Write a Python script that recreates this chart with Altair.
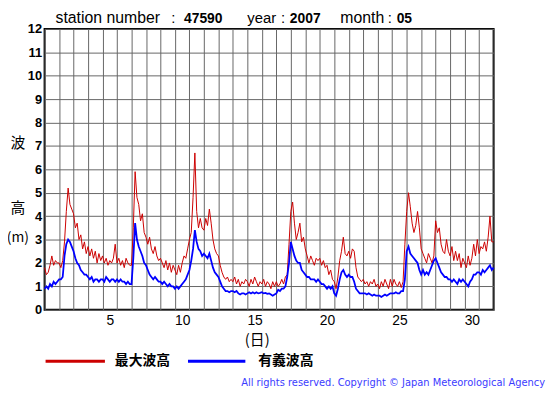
import altair as alt
import pandas as pd

# ---- data (8 readings per day, 3-hourly) ----
red_by_day = [
    [1.8, 1.5, 1.6, 1.9, 2.3, 1.9, 2.1, 2.0],
    [2.0, 1.8, 2.1, 2.9, 4.2, 5.2, 4.5, 4.3],
    [4.1, 3.5, 3.7, 3.0, 3.2, 2.6, 2.9, 2.4],
    [2.7, 2.3, 2.6, 2.2, 2.5, 2.0, 2.4, 2.1],
    [2.3, 2.0, 2.2, 1.9, 2.1, 2.0, 2.2, 2.8],
    [2.0, 2.2, 1.9, 2.1, 1.8, 2.2, 2.0, 1.9],
    [1.9, 3.5, 5.9, 4.8, 4.5, 3.8, 4.1, 3.3],
    [3.1, 2.8, 3.1, 2.6, 2.4, 2.7, 2.3, 2.1],
    [2.2, 2.0, 1.8, 2.1, 1.7, 2.0, 1.6, 1.9],
    [1.7, 1.5, 1.9, 1.6, 2.0, 2.3, 2.2, 2.6],
    [3.0, 3.3, 4.8, 6.7, 4.2, 3.5, 3.9, 3.5],
    [3.4, 3.9, 3.6, 4.3, 3.7, 3.0, 2.6, 2.4],
    [2.3, 1.9, 1.6, 1.4, 1.3, 1.4, 1.2, 1.3],
    [1.2, 1.4, 1.1, 1.3, 1.0, 1.2, 1.1, 1.3],
    [1.2, 1.0, 1.3, 1.1, 1.4, 1.2, 1.0, 1.2],
    [1.1, 1.3, 1.0, 1.2, 1.1, 0.9, 1.2, 1.0],
    [1.2, 1.0, 1.1, 1.3, 1.1, 1.4, 1.5, 2.8],
    [4.2, 4.6, 3.7, 3.0, 3.3, 3.7, 2.9, 3.1],
    [2.6, 2.3, 2.0, 2.3, 2.1, 1.9, 2.2, 2.1],
    [2.2, 1.9, 2.1, 1.8, 1.9, 1.5, 1.7, 1.3],
    [1.2, 0.9, 1.4, 2.1, 2.5, 3.1, 2.4, 2.3],
    [2.5, 2.2, 2.6, 2.5, 1.8, 1.4, 1.3, 1.2],
    [1.3, 1.1, 1.2, 1.0, 1.2, 1.1, 1.3, 1.0],
    [1.1, 0.9, 1.2, 1.0, 1.3, 1.1, 0.9, 1.3],
    [1.0, 1.3, 1.1, 1.0, 1.2, 0.95, 1.2, 2.8],
    [4.2, 5.0, 4.4, 3.7, 3.3, 3.6, 4.2, 3.5],
    [2.6, 2.4, 2.2, 2.0, 2.4, 2.2, 2.0, 2.3],
    [3.8, 3.3, 3.5, 2.8, 2.5, 2.4, 3.0, 2.5],
    [2.3, 2.7, 2.1, 2.5, 2.1, 2.4, 1.8, 2.2],
    [2.0, 1.8, 2.3, 1.9, 2.2, 2.8, 2.3, 3.0],
    [2.4, 2.7, 2.6, 2.9, 2.5, 3.1, 4.0, 2.9],
]
red_end = 2.9

blue_by_day = [
    [0.9, 1.0, 0.9, 1.1, 1.0, 1.2, 1.1, 1.2],
    [1.3, 1.3, 1.4, 2.3, 2.8, 3.0, 2.9, 2.7],
    [2.5, 2.2, 2.0, 1.9, 1.7, 1.6, 1.5, 1.5],
    [1.4, 1.3, 1.4, 1.2, 1.3, 1.3, 1.2, 1.3],
    [1.3, 1.2, 1.4, 1.3, 1.2, 1.3, 1.3, 1.2],
    [1.3, 1.2, 1.3, 1.2, 1.2, 1.1, 1.2, 1.1],
    [1.1, 2.2, 3.7, 3.0, 2.7, 2.5, 2.3, 2.0],
    [1.9, 1.7, 1.5, 1.4, 1.3, 1.4, 1.3, 1.2],
    [1.2, 1.1, 1.2, 1.1, 1.0, 1.1, 1.0, 1.0],
    [0.9, 1.0, 0.9, 1.0, 1.1, 1.2, 1.3, 1.5],
    [1.7, 2.1, 2.6, 3.4, 2.9, 2.6, 2.5, 2.3],
    [2.4, 2.3, 2.2, 2.4, 2.1, 1.8, 1.6, 1.5],
    [1.4, 1.2, 1.0, 0.9, 0.8, 0.8, 0.75, 0.8],
    [0.8, 0.75, 0.8, 0.7, 0.65, 0.7, 0.7, 0.65],
    [0.7, 0.75, 0.7, 0.75, 0.7, 0.75, 0.7, 0.72],
    [0.75, 0.7, 0.72, 0.68, 0.7, 0.65, 0.6, 0.65],
    [0.7, 0.85, 0.8, 0.9, 0.9, 1.0, 1.4, 2.0],
    [2.9, 2.6, 2.3, 2.1, 2.0, 2.0, 1.7, 1.6],
    [1.5, 1.4, 1.4, 1.3, 1.3, 1.3, 1.2, 1.3],
    [1.2, 1.1, 1.1, 1.0, 0.9, 1.0, 0.9, 1.0],
    [0.7, 0.6, 0.9, 1.3, 1.6, 1.7, 1.5, 1.4],
    [1.5, 1.4, 1.4, 1.2, 0.9, 0.8, 0.7, 0.7],
    [0.7, 0.7, 0.65, 0.7, 0.65, 0.6, 0.65, 0.6],
    [0.6, 0.6, 0.55, 0.6, 0.65, 0.6, 0.65, 0.7],
    [0.7, 0.7, 0.75, 0.7, 0.7, 0.8, 0.8, 1.3],
    [2.5, 2.7, 2.4, 2.3, 2.2, 2.1, 2.0, 1.7],
    [1.5, 1.7, 1.5, 1.6, 1.5, 1.7, 1.9, 2.1],
    [2.2, 2.0, 1.8, 1.6, 1.5, 1.4, 1.4, 1.3],
    [1.3, 1.2, 1.3, 1.2, 1.1, 1.3, 1.2, 1.3],
    [1.2, 1.1, 1.0, 1.2, 1.3, 1.5, 1.5, 1.6],
    [1.6, 1.5, 1.7, 1.6, 1.7, 1.8, 1.9, 1.7],
]
blue_end = 1.8

series_names = ["最大波高", "有義波高"]
series_colors = ["#cc0000", "#0000ff"]
x_label_days = [5, 10, 15, 20, 25, 30]
y_ticks = list(range(0, 13))
day_lines = list(range(1, 33))


def to_frame(by_day, end_value, name):
    rows = []
    for d, vals in enumerate(by_day, start=1):
        for i, v in enumerate(vals):
            rows.append({"t": d + i / 8.0, "v": v, "s": name})
    rows.append({"t": 32.0, "v": end_value, "s": name})
    return pd.DataFrame(rows)


red_df = to_frame(red_by_day, red_end, series_names[0])
blue_df = to_frame(blue_by_day, blue_end, series_names[1])

W, H = 454, 284
FONT = "Liberation Sans"
CJK = "Noto Sans CJK JP"

x_scale = alt.Scale(domain=[1, 32], nice=False, zero=False)
y_scale = alt.Scale(domain=[0, 12], nice=False)

label_list = ",".join(str(v) for v in x_label_days)
x_axis = alt.Axis(
    values=day_lines,
    labelExpr=f"indexof([{label_list}], datum.value) >= 0 ? datum.value : ''",
    labelOffset=W / 31 / 2,
    labelOverlap=False,
    labelFlush=False,
    ticks=False,
    domain=False,
    grid=True,
    gridColor="#666666",
    gridWidth=1,
    gridOpacity=1,
    labelFont=FONT,
    labelFontSize=14,
    labelColor="black",
    labelPadding=4,
    title=None,
)
y_axis = alt.Axis(
    values=y_ticks,
    ticks=False,
    domain=False,
    grid=True,
    gridColor="#666666",
    gridWidth=1,
    gridOpacity=1,
    labelFont=FONT,
    labelFontSize=13,
    labelFontWeight="bold",
    labelColor="black",
    labelPadding=3,
    labelFlush=False,
    labelOverlap=False,
    title=None,
)

red_line = alt.Chart(red_df).mark_line(color=series_colors[0], strokeWidth=1).encode(
    x=alt.X("t:Q", scale=x_scale, axis=x_axis),
    y=alt.Y("v:Q", scale=y_scale, axis=y_axis),
)
blue_line = alt.Chart(blue_df).mark_line(color=series_colors[1], strokeWidth=1.8).encode(
    x=alt.X("t:Q", scale=x_scale, axis=x_axis),
    y=alt.Y("v:Q", scale=y_scale, axis=y_axis),
)

one = pd.DataFrame({"k": [0]})


def txt(text, x, y, size=14, weight="normal", font=FONT, align="left",
        baseline="middle", color="black"):
    return alt.Chart(one).mark_text(
        text=text, font=font, fontSize=size, fontWeight=weight, align=align,
        baseline=baseline, color=color,
    ).encode(x=alt.value(x), y=alt.value(y))


def seg(x1, x2, y, color):
    return alt.Chart(one).mark_rule(color=color, strokeWidth=3).encode(
        x=alt.value(x1), x2=alt.value(x2), y=alt.value(y)
    )


# plot-area origin is at page (45, 27)
TY = -6
texts = [
    txt("station number", 11, TY, size=16, baseline="alphabetic"),
    txt(":", 128, TY, size=15, baseline="alphabetic"),
    txt("47590", 141, TY, size=14, weight="bold", baseline="alphabetic"),
    txt("year", 205, TY, size=15, baseline="alphabetic"),
    txt(":", 239, TY, size=15, baseline="alphabetic"),
    txt("2007", 248, TY, size=14, weight="bold", baseline="alphabetic"),
    txt("month", 299, TY, size=16, baseline="alphabetic"),
    txt(":", 347, TY, size=15, baseline="alphabetic"),
    txt("05", 356, TY, size=14, weight="bold", baseline="alphabetic"),
    txt("波", -27, 115, size=15, font=CJK, align="center"),
    txt("高", -27, 181, size=15, font=CJK, align="center"),
    txt("(m)", -27, 211, size=14, font=CJK, align="center"),
    txt("(日)", 215, 315, size=15, font=CJK, align="center"),
    txt("最大波高", 71, 336, size=14, weight="bold", font=CJK),
    txt("有義波高", 216, 336, size=14, weight="bold", font=CJK),
    txt("All rights reserved. Copyright © Japan Meteorological Agency", 506, 358,
        size=10, align="right", color="#3b3bff", font="DejaVu Sans"),
    seg(1, 61, 336, series_colors[0]),
    seg(145, 203, 336, series_colors[1]),
]

chart = alt.layer(red_line, blue_line, *texts).properties(
    width=W,
    height=H,
    padding={"left": 37, "top": 19, "right": 54, "bottom": 78},
    autosize=alt.AutoSizeParams(type="none"),
).configure_view(
    stroke="black", strokeWidth=2
)

chart.save("out.html", embed_options={"renderer": "svg", "actions": False})
